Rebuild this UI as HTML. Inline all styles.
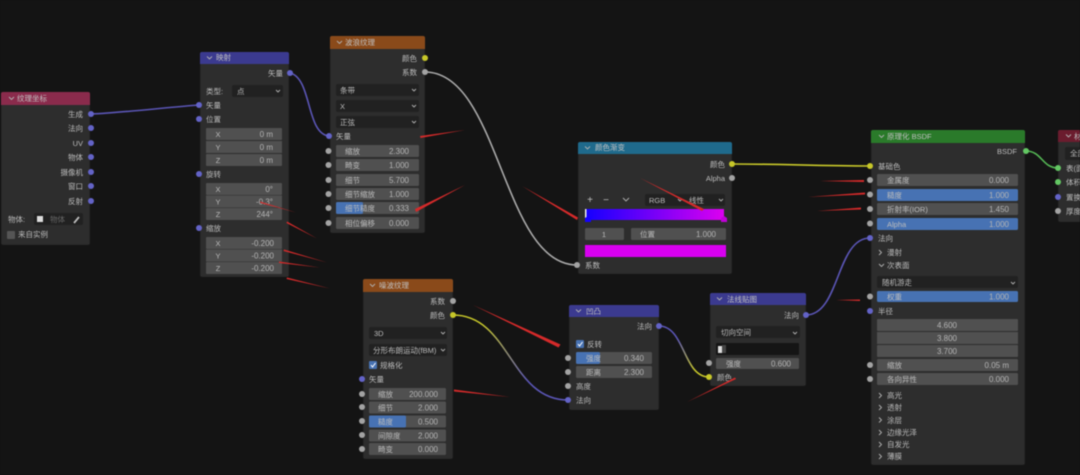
<!DOCTYPE html>
<html lang="zh">
<head>
<meta charset="utf-8">
<title>节点图</title>
<style>
html,body{margin:0;padding:0;background:#141414;width:1080px;height:475px;overflow:hidden}
svg{display:block;filter:blur(.55px)}
text{font-family:"Liberation Sans","Noto Sans CJK SC",sans-serif;font-size:7.5px;fill:#bcbcbc}
.v{font-size:8px;text-anchor:end;fill:#b4b4b4}
.c{text-anchor:middle}
.e{text-anchor:end}
.h{fill:#c0c0c0}
.n{fill:#2d2d2d;stroke:#1a1a1a;stroke-width:.6}
.f{fill:#505050}
.d{fill:#212121}
.b{fill:#4772b3}
.g{fill:#a3a3a3}
.p{fill:#6363c7}
.y{fill:#c7c729}
.r{fill:#63c763}
.a{fill:#d42a2a}
.l{fill:none;stroke-width:1.6}
.w{fill:none;stroke:#b0b0b0;stroke-width:.9}
</style>
</head>
<body>
<svg width="1080" height="475" viewBox="0 0 1080 475" xmlns="http://www.w3.org/2000/svg">
<defs>
<linearGradient id="ramp" x1="0" x2="1"><stop offset="0" stop-color="#1500ff"/><stop offset="1" stop-color="#dc00f0"/></linearGradient>
<linearGradient id="yp" gradientUnits="userSpaceOnUse" x1="453" y1="315" x2="568" y2="400"><stop offset=".2" stop-color="#c7c729"/><stop offset=".7" stop-color="#5a55b5"/></linearGradient>
<linearGradient id="py" gradientUnits="userSpaceOnUse" x1="659" y1="326" x2="709" y2="377"><stop offset=".3" stop-color="#5a55b5"/><stop offset=".8" stop-color="#c7c729"/></linearGradient>
</defs>
<rect width="1080" height="475" fill="#141414"/>

<!-- connectors -->
<path class="l" stroke="#5a55b5" d="M91 114C120 113 170 107 199 105"/>
<path class="l" stroke="#5a55b5" d="M290 73C312 78 306 134 329 136"/>
<path class="l" stroke="#aaa" d="M425 72C500 72 502 265 577 265"/>
<path class="l" stroke="url(#yp)" d="M453 315C510 315 510 400 568 400"/>
<path class="l" stroke="url(#py)" d="M659 326C685 326 683 377 709 377"/>
<path class="l" stroke="#c7c729" d="M732 164C780 164 820 166 870 166"/>
<path class="l" stroke="#5a55b5" d="M806 315C840 315 836 238 870 238"/>
<path class="l" stroke="#55b855" d="M1026 151C1042 151 1042 168 1058 168"/>

<!-- 纹理坐标 -->
<rect class="n" x="1" y="92" width="89" height="153" rx="2"/>
<path fill="#8a2b4c" d="M1 105V94q0-2 2-2h85q2 0 2 2v11z"/>
<path class="w" d="M9 97l2.500 2.500 2.500-2.500"/>
<text class="h" x="17" y="101">纹理坐标</text>
<text class="e" x="83" y="117">生成</text><text class="e" x="83" y="131">法向</text><text class="e" x="83" y="146">UV</text><text class="e" x="83" y="160">物体</text><text class="e" x="83" y="175">摄像机</text><text class="e" x="83" y="189">窗口</text><text class="e" x="83" y="204">反射</text>
<circle class="p" cx="91" cy="114" r="3"/><circle class="p" cx="91" cy="128" r="3"/><circle class="p" cx="91" cy="143" r="3"/><circle class="p" cx="91" cy="157" r="3"/><circle class="p" cx="91" cy="172" r="3"/><circle class="p" cx="91" cy="186" r="3"/><circle class="p" cx="91" cy="201" r="3"/>
<text x="8" y="222">物体:</text>
<rect class="d" x="34" y="213" width="49" height="12" rx="2"/>
<rect x="37" y="216" width="6" height="6" fill="#ddd"/>
<text x="50" y="222" style="fill:#666">物体</text>
<path d="M74 223l5-6" stroke="#bbb" stroke-width="1.800"/>
<rect x="7" y="231" width="8" height="8" rx="1" fill="#555"/>
<text x="18" y="237">来自实例</text>

<!-- 映射 -->
<rect class="n" x="200" y="52" width="89" height="225" rx="2"/>
<path fill="#3b3a8f" d="M200 64V54q0-2 2-2h85q2 0 2 2v10z"/>
<path class="w" d="M207 56.500l2.500 2.500 2.500-2.500"/>
<text class="h" x="216" y="60">映射</text>
<text class="e" x="283" y="76">矢量</text><circle class="p" cx="290" cy="73" r="3"/>
<text x="206" y="94">类型:</text>
<rect class="d" x="232" y="85" width="51" height="12" rx="2"/><text x="237" y="94">点</text><path class="w" d="M276 90l2 2 2-2"/>
<text x="206" y="108">矢量</text><circle class="p" cx="199" cy="105" r="3"/>
<text x="206" y="122">位置</text><circle class="p" cx="199" cy="119" r="3"/>
<rect class="f" x="206" y="128" width="76" height="12" rx="1"/><rect class="f" x="206" y="141" width="76" height="12"/><rect class="f" x="206" y="154" width="76" height="12" rx="1"/>
<text class="c" x="218" y="137">X</text><text class="v" x="273" y="137">0 m</text>
<text class="c" x="218" y="150">Y</text><text class="v" x="273" y="150">0 m</text>
<text class="c" x="218" y="163">Z</text><text class="v" x="273" y="163">0 m</text>
<text x="206" y="177">旋转</text><circle class="p" cx="199" cy="174" r="3"/>
<rect class="f" x="206" y="183" width="76" height="12" rx="1"/><rect class="f" x="206" y="195.500" width="76" height="12"/><rect class="f" x="206" y="208" width="76" height="12" rx="1"/>
<text class="c" x="218" y="192">X</text><text class="v" x="273" y="192">0°</text>
<text class="c" x="218" y="204.500">Y</text><text class="v" x="273" y="204.500">-0.3°</text>
<text class="c" x="218" y="217">Z</text><text class="v" x="273" y="217">244°</text>
<text x="206" y="231">缩放</text><circle class="p" cx="199" cy="228" r="3"/>
<rect class="f" x="206" y="237" width="76" height="12" rx="1"/><rect class="f" x="206" y="249.500" width="76" height="12"/><rect class="f" x="206" y="262" width="76" height="12" rx="1"/>
<text class="c" x="218" y="246">X</text><text class="v" x="274" y="246">-0.200</text>
<text class="c" x="218" y="258.500">Y</text><text class="v" x="274" y="258.500">-0.200</text>
<text class="c" x="218" y="271">Z</text><text class="v" x="274" y="271">-0.200</text>

<!-- 波浪纹理 -->
<rect class="n" x="330" y="36" width="95" height="197" rx="2"/>
<path fill="#8a4a1a" d="M330 49V38q0-2 2-2h91q2 0 2 2v11z"/>
<path class="w" d="M337 41l2.500 2.500 2.500-2.500"/>
<text class="h" x="345" y="45">波浪纹理</text>
<text class="e" x="417" y="61">颜色</text><circle class="y" cx="425" cy="58" r="3"/>
<text class="e" x="417" y="75">系数</text><circle class="g" cx="425" cy="72" r="3"/>
<rect class="d" x="336" y="84" width="83" height="12" rx="2"/><text x="340" y="93">条带</text><path class="w" d="M412 89l2 2 2-2"/>
<rect class="d" x="336" y="100" width="83" height="12" rx="2"/><text x="340" y="109">X</text><path class="w" d="M412 105l2 2 2-2"/>
<rect class="d" x="336" y="116" width="83" height="12" rx="2"/><text x="340" y="125">正弦</text><path class="w" d="M412 121l2 2 2-2"/>
<text x="336" y="139">矢量</text><circle class="p" cx="329" cy="136" r="3"/>
<rect class="f" x="336" y="145" width="83" height="12" rx="1.500"/><text x="345" y="154">缩放</text><text class="v" x="409" y="154">2.300</text><circle class="g" cx="328.500" cy="151" r="3"/>
<rect class="f" x="336" y="159" width="83" height="12" rx="1.500"/><text x="345" y="168">畸变</text><text class="v" x="409" y="168">1.000</text><circle class="g" cx="328.500" cy="165" r="3"/>
<rect class="f" x="336" y="174" width="83" height="12" rx="1.500"/><text x="345" y="183">细节</text><text class="v" x="409" y="183">5.700</text><circle class="g" cx="328.500" cy="180" r="3"/>
<rect class="f" x="336" y="188" width="83" height="12" rx="1.500"/><text x="345" y="197">细节缩放</text><text class="v" x="409" y="197">1.000</text><circle class="g" cx="328.500" cy="194" r="3"/>
<rect class="f" x="336" y="202" width="83" height="12" rx="1.500"/><rect class="b" x="336" y="202" width="27" height="12" rx="1.500"/><text x="345" y="211">细节糙度</text><text class="v" x="409" y="211">0.333</text><circle class="g" cx="328.500" cy="208" r="3"/>
<rect class="f" x="336" y="217" width="83" height="12" rx="1.500"/><text x="345" y="226">相位偏移</text><text class="v" x="409" y="226">0.000</text><circle class="g" cx="328.500" cy="223" r="3"/>

<!-- 噪波纹理 -->
<rect class="n" x="363" y="279" width="90" height="180" rx="2"/>
<path fill="#8a4a1a" d="M363 292V281q0-2 2-2h86q2 0 2 2v11z"/>
<path class="w" d="M370 284l2.500 2.500 2.500-2.500"/>
<text class="h" x="379" y="288">噪波纹理</text>
<text class="e" x="445" y="304">系数</text><circle class="g" cx="453" cy="301" r="3"/>
<text class="e" x="445" y="318">颜色</text><circle class="y" cx="453" cy="315" r="3"/>
<rect class="d" x="369" y="327" width="78" height="12" rx="2"/><text x="374" y="336">3D</text><path class="w" d="M441 332l2 2 2-2"/>
<rect class="d" x="369" y="344" width="78" height="12" rx="2"/><text x="373" y="353">分形布朗运动(fBM)</text><path class="w" d="M441 349l2 2 2-2"/>
<rect class="b" x="369" y="361" width="8" height="8" rx="1"/><path d="M371 365l1.500 2 3-4" fill="none" stroke="#fff" stroke-width="1"/>
<text x="380" y="368">规格化</text>
<text x="369" y="382">矢量</text><circle class="p" cx="362" cy="379" r="3"/>
<rect class="f" x="369" y="388" width="77" height="12" rx="1.500"/><text x="378" y="397">缩放</text><text class="v" x="438" y="397">200.000</text><circle class="g" cx="362" cy="394" r="3"/>
<rect class="f" x="369" y="401.500" width="77" height="12" rx="1.500"/><text x="378" y="410.500">细节</text><text class="v" x="438" y="410.500">2.000</text><circle class="g" cx="362" cy="407" r="3"/>
<rect class="f" x="369" y="415.500" width="77" height="12" rx="1.500"/><rect class="b" x="369" y="415.500" width="37" height="12" rx="1.500"/><text x="378" y="424.500">糙度</text><text class="v" x="438" y="424.500">0.500</text><circle class="g" cx="362" cy="421" r="3"/>
<rect class="f" x="369" y="429.500" width="77" height="12" rx="1.500"/><text x="378" y="438.500">间隙度</text><text class="v" x="438" y="438.500">2.000</text><circle class="g" cx="362" cy="435" r="3"/>
<rect class="f" x="369" y="443" width="77" height="12" rx="1.500"/><text x="378" y="452">畸变</text><text class="v" x="438" y="452">0.000</text><circle class="g" cx="362" cy="449" r="3"/>

<!-- 颜色渐变 -->
<rect class="n" x="578" y="142" width="154" height="132" rx="2"/>
<path fill="#1f6a8c" d="M578 154V144q0-2 2-2h150q2 0 2 2v10z"/>
<path class="w" d="M585 146.500l2.500 2.500 2.500-2.500"/>
<text class="h" x="595" y="150">颜色渐变</text>
<text class="e" x="725" y="167">颜色</text><circle class="y" cx="732" cy="164" r="3"/>
<text class="e" x="725" y="181">Alpha</text><circle class="g" cx="732" cy="178" r="3"/>
<text class="c" x="590" y="203" style="font-size:10px">+</text>
<text class="c" x="606" y="203" style="font-size:10px">−</text>
<path class="w" d="M623 198l3 3 3-3"/>
<rect class="d" x="645" y="194" width="80" height="12" rx="2"/>
<text x="649" y="203">RGB</text><path class="w" d="M678 199l2 2 2-2"/><text x="689" y="203">线性</text><path class="w" d="M719 199l2 2 2-2"/>
<rect x="586" y="209" width="138" height="11" fill="url(#ramp)"/>
<rect x="585" y="209" width="1.500" height="12" fill="#eee"/>
<path d="M585 222v-4l3-2 3 2v4z" fill="#1500ff"/>
<path d="M721 222v-4l3-2 3 2v4z" fill="#c000d8"/>
<rect class="f" x="585" y="228" width="39" height="12" rx="1.500"/><text class="c" x="604" y="237">1</text>
<rect class="f" x="631" y="228" width="95" height="12" rx="1.500"/><text x="640" y="237">位置</text><text class="v" x="716" y="237">1.000</text>
<rect x="585" y="245" width="141" height="12" fill="#d800f0"/>
<text x="585" y="268">系数</text><circle class="g" cx="577" cy="265" r="3"/>

<!-- 凹凸 -->
<rect class="n" x="569" y="305" width="90" height="105" rx="2"/>
<path fill="#3b3a8f" d="M569 317V307q0-2 2-2h86q2 0 2 2v10z"/>
<path class="w" d="M576 309.500l2.500 2.500 2.500-2.500"/>
<text class="h" x="586" y="314">凹凸</text>
<text class="e" x="652" y="329">法向</text><circle class="p" cx="659" cy="326" r="3"/>
<rect class="b" x="576" y="340" width="8" height="8" rx="1"/><path d="M578 344l1.500 2 3-4" fill="none" stroke="#fff" stroke-width="1"/>
<text x="587" y="347">反转</text>
<rect class="f" x="576" y="352" width="76" height="12" rx="1.500"/><rect class="b" x="576" y="352" width="24" height="12" rx="1.500"/><text x="586" y="361">强度</text><text class="v" x="644" y="361">0.340</text><circle class="g" cx="568" cy="358" r="3"/>
<rect class="f" x="576" y="366" width="76" height="12" rx="1.500"/><text x="586" y="375">距离</text><text class="v" x="644" y="375">2.300</text><circle class="g" cx="568" cy="372" r="3"/>
<text x="576" y="389">高度</text><circle class="g" cx="568" cy="386" r="3"/>
<text x="576" y="403">法向</text><circle class="p" cx="568" cy="400" r="3"/>

<!-- 法线贴图 -->
<rect class="n" x="710" y="293" width="96" height="93" rx="2"/>
<path fill="#3b3a8f" d="M710 305V295q0-2 2-2h92q2 0 2 2v10z"/>
<path class="w" d="M717 297.500l2.500 2.500 2.500-2.500"/>
<text class="h" x="727" y="302">法线贴图</text>
<text class="e" x="799" y="318">法向</text><circle class="p" cx="806" cy="315" r="3"/>
<rect class="d" x="716" y="326" width="84" height="12" rx="2"/><text x="721" y="335">切向空间</text><path class="w" d="M793 332l2 2 2-2"/>
<rect x="716" y="343" width="83" height="12" rx="1" fill="#151515"/>
<rect x="718" y="346" width="4" height="7" fill="#ddd"/><rect x="722" y="345" width="4" height="8" fill="#444"/>
<rect class="f" x="716" y="358" width="83" height="11" rx="1.500"/><text x="726" y="366.500">强度</text><text class="v" x="791" y="366.500">0.600</text><circle class="g" cx="709" cy="363" r="3"/>
<text x="717" y="380">颜色</text><circle class="y" cx="709" cy="377" r="3"/>

<!-- 原理化 BSDF -->
<rect class="n" x="871" y="130" width="154" height="335" rx="2"/>
<path fill="#2a7a2a" d="M871 143V132q0-2 2-2h150q2 0 2 2v11z"/>
<path class="w" d="M879 135l2.500 2.500 2.500-2.500"/>
<text class="h" x="887" y="139">原理化 BSDF</text>
<text class="e" x="1017" y="154">BSDF</text><circle class="r" cx="1026" cy="151" r="3"/>
<text x="878" y="169">基础色</text><circle class="y" cx="870" cy="166" r="3"/>
<rect class="f" x="877" y="174" width="141" height="12" rx="1.500"/><text x="887" y="183">金属度</text><text class="v" x="1009" y="183">0.000</text><circle class="g" cx="870" cy="180" r="3"/>
<rect class="b" x="877" y="189" width="141" height="12" rx="1.500"/><text x="887" y="198">糙度</text><text class="v" x="1009" y="198">1.000</text><circle class="g" cx="870" cy="194.500" r="3"/>
<rect class="f" x="877" y="203" width="141" height="12" rx="1.500"/><text x="887" y="212">折射率(IOR)</text><text class="v" x="1009" y="212">1.450</text><circle class="g" cx="870" cy="209" r="3"/>
<rect class="b" x="877" y="218" width="141" height="12" rx="1.500"/><text x="887" y="227">Alpha</text><text class="v" x="1009" y="227">1.000</text><circle class="g" cx="870" cy="223.500" r="3"/>
<text x="878" y="241">法向</text><circle class="p" cx="870" cy="238" r="3"/>
<path class="w" d="M879 250l2.500 2.500-2.500 2.500"/><text x="887" y="255">漫射</text>
<path class="w" d="M879 264l2.500 2.500 2.500-2.500"/><text x="887" y="268">次表面</text>
<rect class="d" x="877" y="276" width="141" height="12" rx="2"/><text x="882" y="285">随机游走</text><path class="w" d="M1011 282l2 2 2-2"/>
<rect class="b" x="877" y="291" width="141" height="11" rx="1.500"/><text x="887" y="299.500">权重</text><text class="v" x="1009" y="299.500">1.000</text><circle class="g" cx="870" cy="296.500" r="3"/>
<text x="878" y="314">半径</text><circle class="p" cx="870" cy="311" r="3"/>
<rect class="f" x="877" y="319" width="141" height="12" rx="1"/><rect class="f" x="877" y="332" width="141" height="12"/><rect class="f" x="877" y="345" width="141" height="12" rx="1"/>
<text class="v c" x="947" y="328" style="text-anchor:middle">4.600</text>
<text class="v c" x="947" y="341" style="text-anchor:middle">3.800</text>
<text class="v c" x="947" y="354" style="text-anchor:middle">3.700</text>
<rect class="f" x="877" y="359" width="141" height="12" rx="1.500"/><text x="887" y="368">缩放</text><text class="v" x="1009" y="368">0.05 m</text><circle class="g" cx="870" cy="365" r="3"/>
<rect class="f" x="877" y="373" width="141" height="12" rx="1.500"/><text x="887" y="382">各向异性</text><text class="v" x="1009" y="382">0.000</text><circle class="g" cx="870" cy="379" r="3"/>
<path class="w" d="M879 393l2.500 2.500-2.500 2.500"/><text x="887" y="398">高光</text>
<path class="w" d="M879 405l2.500 2.500-2.500 2.500"/><text x="887" y="410">透射</text>
<path class="w" d="M879 417.500l2.500 2.500-2.500 2.500"/><text x="887" y="423">涂层</text>
<path class="w" d="M879 430l2.500 2.500-2.500 2.500"/><text x="887" y="435">边缘光泽</text>
<path class="w" d="M879 442l2.500 2.500-2.500 2.500"/><text x="887" y="447">自发光</text>
<path class="w" d="M879 454l2.500 2.500-2.500 2.500"/><text x="887" y="459">薄膜</text>

<!-- 材质输出 (cut off) -->
<rect class="n" x="1058" y="130" width="30" height="92" rx="2"/>
<path fill="#6b1c2e" d="M1058 142V132q0-2 2-2h28v12z"/>
<path class="w" d="M1066 134.500l2.500 2.500 2.500-2.500"/>
<text class="h" x="1074" y="139">材质输出</text>
<rect class="d" x="1065" y="147" width="20" height="13" rx="2"/><text x="1070" y="156">全部</text>
<text x="1066" y="171">表(面)</text><circle class="r" cx="1058" cy="168" r="3"/>
<text x="1066" y="185">体积</text><circle class="r" cx="1058" cy="182" r="3"/>
<text x="1066" y="200">置换</text><circle class="p" cx="1058" cy="197" r="3"/>
<text x="1066" y="214">厚度</text><circle class="g" cx="1058" cy="211" r="3"/>

<!-- red annotation arrows -->
<polygon class="a" points="260,201.500 260.500,203 296,212.500"/>
<polygon class="a" points="287,221.500 286.500,223 317,238.500"/>
<polygon class="a" points="284,249.500 283.500,251 327,262.500"/>
<polygon class="a" points="279,261.500 279,263 320,267.500"/>
<polygon class="a" points="287,277.500 286.500,279 330,288.500"/>
<polygon class="a" points="420,136 420.500,138 465,130"/>
<polygon class="a" points="415,209 416,212 465,185"/>
<polygon class="a" points="578,217.500 577,220 522,186"/>
<polygon class="a" points="704,209 702,211 640,178"/>
<polygon class="a" points="560.500,344.500 558.500,347.500 473,305"/>
<polygon class="a" points="454,389.500 454,391.500 510,397"/>
<polygon class="a" points="735,377.500 736,379 687,402"/>
<polygon class="a" points="864,180 864,182 820,181"/>
<polygon class="a" points="865,192.500 865,194.500 808,197"/>
<polygon class="a" points="861,207.500 861,209.500 817,211"/>
<polygon class="a" points="860,299.500 860,301 836,300"/>
</svg>
</body>
</html>
